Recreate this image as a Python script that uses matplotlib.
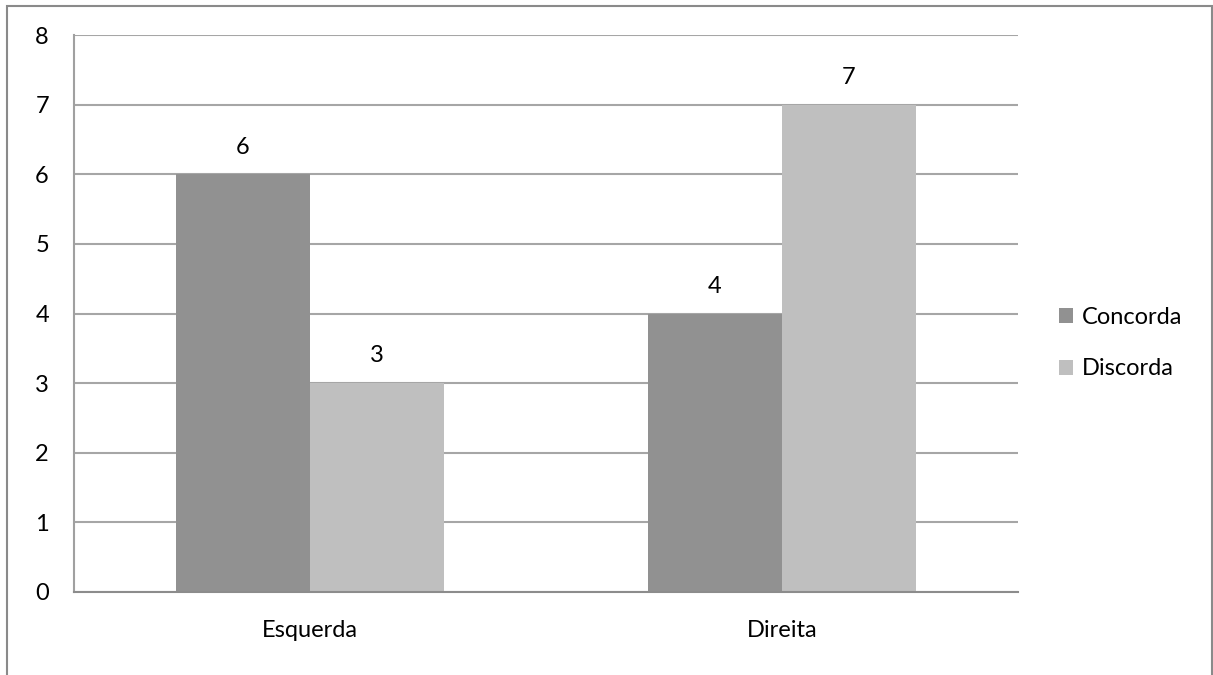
import matplotlib
matplotlib.use("Agg")
import matplotlib.pyplot as plt
import matplotlib.patches as mpatches
import numpy as np

plt.rcParams.update({
    "font.family": ["Lato", "DejaVu Sans"],
    "font.size": 17,
    "figure.facecolor": "white",
    "axes.facecolor": "white",
})

categories = ["Esquerda", "Direita"]
series = ["Concorda", "Discorda"]
concorda = [6, 4]
discorda = [3, 7]
yticks = [0, 1, 2, 3, 4, 5, 6, 7, 8]

colors = ["#919191", "#BFBFBF"]

fig = plt.figure(figsize=(12.13, 6.75), dpi=100)
ax = fig.add_axes([74 / 1213, 1 - 592 / 675, (1018 - 74) / 1213, (592 - 35) / 675])

x = np.arange(len(categories))
w = 0.284
b1 = ax.bar(x - w / 2, concorda, w, color=colors[0], label=series[0], zorder=2)
b2 = ax.bar(x + w / 2, discorda, w, color=colors[1], label=series[1], zorder=2)
for bars in (b1, b2):
    ax.bar_label(bars, padding=12, fontsize=17)

ax.set_xlim(-0.5, 1.5)
ax.set_ylim(0, 8)
ax.set_yticks(yticks)
ax.set_xticks(x)
ax.set_xticklabels(categories)
ax.tick_params(axis="both", length=0)
ax.tick_params(axis="y", pad=18)
ax.tick_params(axis="x", pad=20)
ax.yaxis.grid(True, color="#A6A6A6", linewidth=1.5, zorder=0)
ax.set_axisbelow(True)
for s in ("top", "right"):
    ax.spines[s].set_visible(False)
ax.spines["left"].set_color("#A0A0A0")
ax.spines["bottom"].set_color("#8C8C8C")
ax.spines["left"].set_linewidth(1.5)
ax.spines["bottom"].set_linewidth(1.5)

ax.legend(loc="center left", bbox_to_anchor=(1038 / 1213, 1 - 343 / 675),
          bbox_transform=fig.transFigure, frameon=False,
          handlelength=0.6, handleheight=0.6, handletextpad=0.35,
          labelspacing=1.3, fontsize=17)

# outer chart border
fig.patches.append(mpatches.Rectangle(
    (6.5 / 1213, -0.1), (1211.5 - 6.5) / 1213, 1.1 - 5.5 / 675,
    transform=fig.transFigure, fill=False, edgecolor="#8A8A8A", linewidth=1.5))

fig.savefig("out.png", dpi=100, facecolor="white")
